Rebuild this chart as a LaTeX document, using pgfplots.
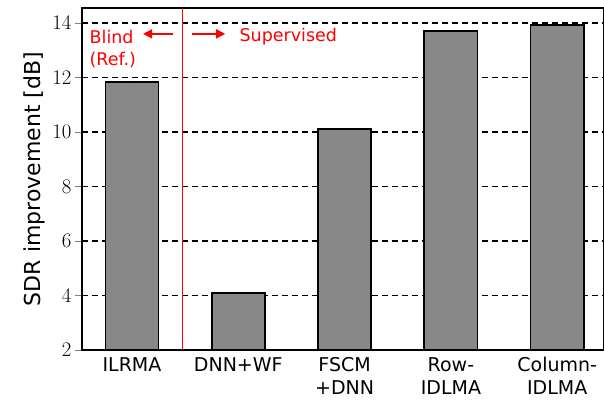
\documentclass[border=0pt]{standalone}
\usepackage{pgfplots}
\pgfplotsset{compat=1.18}
\usepackage{fontspec}
\setmainfont{DejaVu Sans}
\usetikzlibrary{calc,arrows.meta}
\definecolor{bargray}{HTML}{888888}
\begin{document}
\begin{tikzpicture}
\begin{axis}[name=ax,
  scale only axis, width=522pt, height=342pt,
  xmin=-0.47, xmax=4.44, ymin=2, ymax=14.55,
  ytick={2,4,...,14},
  xtick={0,1,2,3,4},
  xticklabels={ILRMA,DNN+WF,FSCM\\+DNN,Row-\\IDLMA,Column-\\IDLMA},
  x tick label style={align=center, font=\fontsize{19}{23}\selectfont, yshift=1pt, inner sep=1pt},
  y tick label style={font=\fontsize{20}{24}\selectfont},
  major x tick style={draw=none},
  tick align=outside, major tick length=7pt,
  ymajorgrids, grid style={black, dash pattern=on 6pt off 4pt, line width=1.1pt},
  axis line style={line width=1.6pt},
  ylabel={SDR improvement [dB]},
  ylabel style={font=\fontsize{22}{26}\selectfont},
  clip=false,
]
\addplot[ybar, bar width=0.5, fill=bargray, draw=black, line width=1.7pt] coordinates {(0,11.83) (1,4.09) (2,10.11) (3,13.7) (4,13.93)};
\draw[red, line width=1pt] (axis cs:0.48,2) -- (axis cs:0.48,14.55);
\node[red, anchor=west, font=\fontsize{17.5}{22}\selectfont, inner sep=0pt] at (axis cs:-0.40,13.49) {Blind};
\node[red, anchor=west, font=\fontsize{17.5}{22}\selectfont, inner sep=0pt] at (axis cs:-0.40,12.64) {(Ref.)};
\node[red, anchor=west, font=\fontsize{17.5}{22}\selectfont, inner sep=0pt] at (axis cs:1.01,13.49) {Supervised};
\draw[red, line width=1.5pt, -{Triangle[length=9pt,width=9pt]}] (axis cs:0.387,13.6) -- (axis cs:0.104,13.6);
\draw[red, line width=1.5pt, -{Triangle[length=9pt,width=9pt]}] (axis cs:0.566,13.6) -- (axis cs:0.877,13.6);
\end{axis}
\pgfresetboundingbox
\path ($(ax.south west)+(-82pt,-51pt)$) rectangle ($(ax.north east)+(0pt,8pt)$);
\end{tikzpicture}
\end{document}
